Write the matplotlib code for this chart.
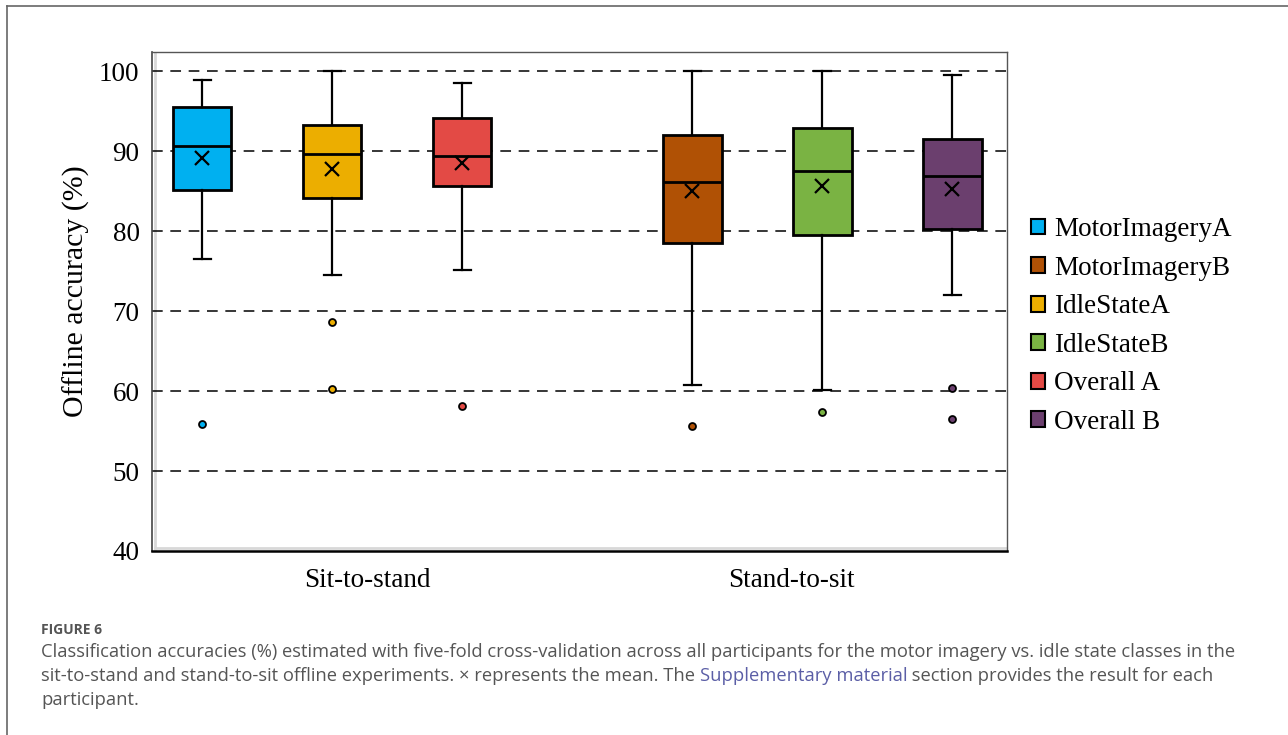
import matplotlib
matplotlib.use("Agg")
import matplotlib.pyplot as plt
from matplotlib.patches import Patch
from matplotlib.lines import Line2D

# box statistics (%)
series = ["MotorImageryA", "IdleStateA", "Overall A",
          "MotorImageryB", "IdleStateB", "Overall B"]
whislo = [76.5, 74.5, 75.2, 60.8, 60.1, 72.0]
q1 = [85.1, 84.2, 85.6, 78.5, 79.5, 80.3]
med = [90.7, 89.7, 89.4, 86.1, 87.5, 86.9]
q3 = [95.5, 93.3, 94.1, 92.0, 92.9, 91.5]
whishi = [98.9, 100.0, 98.5, 100.0, 100.0, 99.5]
means = [89.2, 87.8, 88.5, 85.0, 85.7, 85.3]
fliers = [[55.9], [68.6, 60.2], [58.1], [55.6], [57.4], [60.4, 56.5]]
colors = ["#00b0f0", "#ecae00", "#e34a45", "#b05105", "#7ab343", "#6b3f6e"]

groups = ["Sit-to-stand", "Stand-to-sit"]
legend_order = ["MotorImageryA", "MotorImageryB", "IdleStateA",
                "IdleStateB", "Overall A", "Overall B"]

positions = [1, 2, 3, 4.77, 5.77, 6.77]
group_ticks = [2.27, 5.53]

serif = ["Liberation Serif", "DejaVu Serif"]

fig = plt.figure(figsize=(12.88, 7.35), dpi=100)
ax = fig.add_axes([152 / 1288, 1 - 551 / 735, 855 / 1288, 499 / 735])

stats = []
for i in range(len(series)):
    stats.append(dict(label=series[i], whislo=whislo[i], q1=q1[i], med=med[i],
                      q3=q3[i], whishi=whishi[i], mean=means[i],
                      fliers=fliers[i]))

bp = ax.bxp(stats, positions=positions, widths=0.45, patch_artist=True,
            showmeans=True, showfliers=True,
            boxprops=dict(edgecolor="black", linewidth=2),
            medianprops=dict(color="black", linewidth=2),
            whiskerprops=dict(color="black", linewidth=1.6),
            capprops=dict(color="black", linewidth=1.6),
            meanprops=dict(marker="x", markeredgecolor="black",
                           markersize=10, markeredgewidth=1.6),
            capwidths=0.13, zorder=3)
for box, c in zip(bp["boxes"], colors):
    box.set_facecolor(c)
for fl, c in zip(bp["fliers"], colors):
    fl.set_marker("o")
    fl.set_markerfacecolor(c)
    fl.set_markeredgecolor("black")
    fl.set_markersize(5)
    fl.set_markeredgewidth(1.3)

ax.set_xlim(0.615, 7.19)
ax.set_ylim(40, 102.4)
ax.set_yticks([40, 50, 60, 70, 80, 90, 100])
ax.set_xticks(group_ticks)
ax.set_xticklabels(groups)
ax.tick_params(axis="both", length=0, labelsize=19.5)
ax.tick_params(axis="y", pad=9)
ax.tick_params(axis="x", pad=12)
for lab in ax.get_xticklabels() + ax.get_yticklabels():
    lab.set_family(serif)

for y in [50, 60, 70, 80, 90, 100]:
    ax.axhline(y, color="black", linewidth=1.1, linestyle=(0, (7, 5)), zorder=1)

ax.set_ylabel("Offline accuracy (%)", fontsize=21.5, family=serif)
ax.yaxis.set_label_coords(-0.0725, 0.52)

for s in ["top", "right"]:
    ax.spines[s].set_color("#555555")
    ax.spines[s].set_linewidth(1.0)
ax.spines["left"].set_color("#444444")
ax.spines["left"].set_linewidth(1.2)
ax.spines["bottom"].set_color("black")
ax.spines["bottom"].set_linewidth(1.8)
# light inner shadow along the left and bottom frame
ax.add_line(Line2D([0.0035, 0.0035], [0.005, 1], transform=ax.transAxes,
                   color="#d8d8d8", linewidth=2, zorder=0))
ax.add_line(Line2D([0.0035, 1], [0.006, 0.006], transform=ax.transAxes,
                   color="#d8d8d8", linewidth=2, zorder=0))

handles = [Patch(facecolor=colors[series.index(n)], edgecolor="black",
                 linewidth=1.5) for n in legend_order]
leg = fig.legend(handles, legend_order, loc="center left",
                 bbox_to_anchor=(1020 / 1288, 1 - 326 / 735), frameon=False,
                 prop=dict(family=serif, size=19.5), handlelength=0.52,
                 handleheight=0.52, handletextpad=0.35, labelspacing=0.5,
                 borderaxespad=0)

# outer frame (top and left only)
fig.add_artist(Line2D([7 / 1288, 1], [1 - 6 / 735, 1 - 6 / 735],
                      transform=fig.transFigure, color="#666666", linewidth=1.2))
fig.add_artist(Line2D([7 / 1288, 7 / 1288], [0, 1 - 6 / 735],
                      transform=fig.transFigure, color="#666666", linewidth=1.2))

# caption
cap_font = ["Open Sans", "DejaVu Sans"]
cap_color = "#555555"
link_color = "#5b5ea6"
x0 = 41 / 1288
fig.text(x0, 1 - 630 / 735, "FIGURE 6", family=cap_font, fontsize=10,
         fontweight="bold", color="#555555", va="center")
line1 = ("Classification accuracies (%) estimated with five-fold cross-validation "
         "across all participants for the motor imagery vs. idle state classes in the")
line2a = "sit-to-stand and stand-to-sit offline experiments. \u00d7 represents the mean. The "
line2b = "Supplementary material"
line2c = " section provides the result for each"
line3 = "participant."
cap_size = 13.2
fig.text(x0, 1 - 652 / 735, line1, family=cap_font, fontsize=cap_size,
         color=cap_color, va="center")
t2a = fig.text(x0, 1 - 676 / 735, line2a, family=cap_font, fontsize=cap_size,
               color=cap_color, va="center")
fig.text(x0, 1 - 700 / 735, line3, family=cap_font, fontsize=cap_size,
         color=cap_color, va="center")

fig.canvas.draw()
renderer = fig.canvas.get_renderer()
bb = t2a.get_window_extent(renderer)
xb = bb.x1 / fig.bbox.width
t2b = fig.text(xb, 1 - 676 / 735, line2b, family=cap_font, fontsize=cap_size,
               color=link_color, va="center")
bb2 = t2b.get_window_extent(renderer)
fig.text(bb2.x1 / fig.bbox.width, 1 - 676 / 735, line2c, family=cap_font,
         fontsize=cap_size, color=cap_color, va="center")

fig.savefig("out.png", dpi=100)
